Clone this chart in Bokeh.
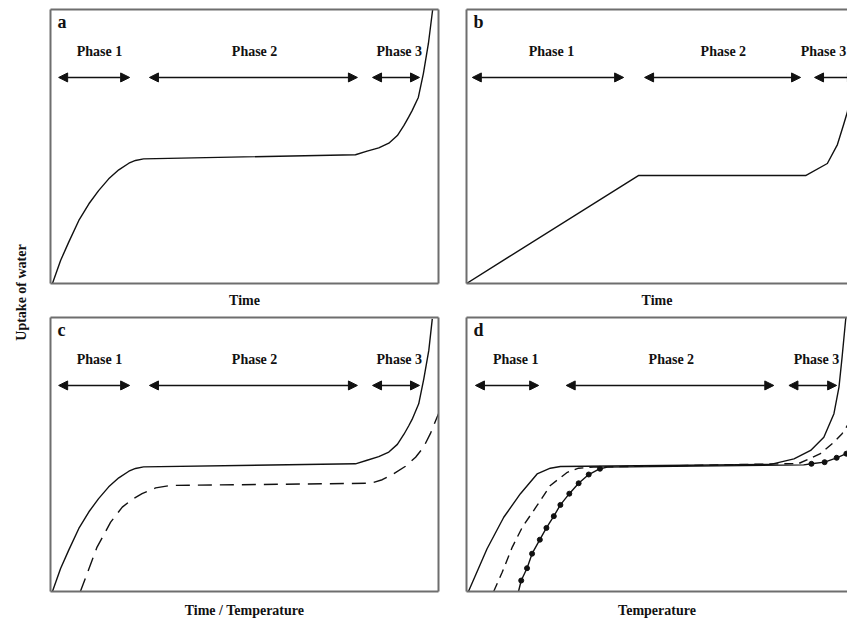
import math
from bokeh.plotting import figure
from bokeh.models import (ColumnDataSource, Range1d, LinearAxis, FixedTicker, Arrow,
                          NormalHead, Label, CDSView, BooleanFilter)
from bokeh.layouts import row, column
from bokeh.embed import file_html
from bokeh.resources import INLINE
from bokeh.core.properties import value

# ---------------- data (arbitrary units 0-100) ----------------
# panel a: time course of water uptake
a_x = [0.5, 2.6, 4.7, 7.3, 9.9, 12.4, 15.0, 17.6, 20.2, 21.9, 24.0, 78.6, 81.6, 84.6, 87.2,
       89.4, 91.1, 92.3, 93.2, 94.8, 96.1, 97.4, 98.5]
a_y = [0, 8.4, 15.1, 23.0, 29.1, 33.9, 38.2, 41.5, 43.9, 44.9, 45.5, 47.0, 48.3, 49.5, 51.2,
       54.0, 57.7, 60.7, 63.1, 67.9, 76.6, 87.6, 100]

# panel b: linear phase 1
b_x = [0, 44.3, 87.4, 93.0, 95.6, 97.2, 98.2, 99.0, 99.7]
b_y = [0, 39.4, 39.4, 43.8, 50.7, 58.0, 62.8, 73.0, 92.0]

# panel c: solid and dashed curves
c_solid_x = [0.5, 2.6, 4.7, 7.3, 9.9, 12.4, 15.0, 17.6, 20.2, 21.9, 24.0, 78.6, 81.6, 84.6, 87.2,
             89.4, 91.1, 92.3, 93.2, 94.9, 96.2, 97.5, 98.4]
c_solid_y = [0, 8.4, 15.1, 23.0, 29.1, 33.9, 38.2, 41.5, 43.9, 44.9, 45.5, 46.6, 47.9, 49.2, 50.9,
             53.7, 57.4, 60.4, 62.8, 68.5, 77.5, 88.0, 99.5]
c_dash_x = [7.7, 12.0, 15.5, 18.5, 21.0, 23.6, 27.1, 30.9, 82.5, 85.5, 88.5, 91.5, 94.1, 96.2, 97.9, 100.0]
c_dash_y = [0, 16.2, 25.3, 30.8, 33.6, 35.7, 37.8, 38.7, 39.5, 40.8, 43.0, 45.7, 49.0, 52.8, 57.6, 64.9]

# panel d: solid, dashed and dotted (line with dots) curves
d_solid_x = [0.5, 5.3, 9.6, 13.9, 18.2, 21.6, 24.2, 78.4, 84.4, 88.7, 92.1, 94.7, 96.0, 96.8, 97.7, 98.2]
d_solid_y = [0, 15.6, 27.1, 35.7, 42.9, 45.0, 45.6, 46.4, 48.4, 51.5, 56.3, 64.9, 74.6, 85.5, 98.9, 105]
d_dash_x = [7.0, 9.2, 11.8, 14.4, 18.2, 21.6, 26.0, 28.9, 32.8, 85.6, 91.2, 94.7, 96.8, 99.0, 101.5]
d_dash_y = [0, 7.0, 16.2, 23.5, 31.4, 38.7, 43.5, 45.0, 45.4, 46.7, 50.3, 54.5, 57.6, 62.4, 77.0]
d_dot_x = [13.4, 14.1, 15.6, 16.9, 18.9, 20.6, 22.5, 24.2, 26.5, 28.9, 31.5, 34.4, 36.3,
           86.9, 88.9, 92.3, 95.4, 97.9, 100.5]
d_dot_y = [0, 4.0, 8.5, 13.8, 18.9, 23.2, 27.5, 31.6, 35.7, 39.5, 42.7, 44.8, 45.4,
           46.2, 46.6, 47.2, 48.8, 50.3, 52.6]
d_dot_marked = [False] + [True] * 11 + [False, False] + [True] * 4 + [False]

# phases
phase_names = ["Phase 1", "Phase 2", "Phase 3"]
a_phase_start = [2.1, 25.5, 83.0]
a_phase_end = [20.4, 79.1, 95.1]
a_phase_mid = [12.6, 52.6, 89.9]
b_phase_start = [1.5, 45.9, 89.7]
b_phase_end = [40.5, 86.1, 100.5]
b_phase_mid = [21.9, 66.2, 92.0]
c_phase_start = [2.1, 25.5, 83.0]
c_phase_end = [20.4, 79.1, 95.1]
c_phase_mid = [12.6, 52.6, 89.9]
d_phase_start = [2.3, 25.7, 83.1]
d_phase_end = [18.6, 79.2, 95.4]
d_phase_mid = [12.7, 52.8, 90.2]

panel_letters = ["a", "b", "c", "d"]
x_titles = ["Time", "Time", "Time / Temperature", "Temperature"]
y_title = "Uptake of water"

# ---------------- styling ----------------
FONT_NAME = "Liberation Serif"
FONT = value(FONT_NAME)
BORDER = "#6e6e6e"
INK = "#111111"
ARROW_Y = 75.2
PHASE_Y = 84.6


def border_axis(label=None, standoff=0):
    ax = LinearAxis(ticker=FixedTicker(ticks=[]), axis_line_color=BORDER, axis_line_width=2,
                    major_tick_in=0, major_tick_out=0, minor_tick_in=0, minor_tick_out=0,
                    major_label_standoff=0, major_label_text_font_size="0px")
    if label:
        ax.axis_label = label
        ax.axis_label_standoff = standoff
        ax.axis_label_text_font = FONT_NAME
        ax.axis_label_text_font_style = "bold"
        ax.axis_label_text_font_size = "14px"
        ax.axis_label_text_color = INK
    return ax


def make_panel(width, height, xmax, borders, right_border, letter, phase_s, phase_e, phase_m,
               xtitle, standoff):
    left, right, top, bottom = borders
    p = figure(width=width, height=height, x_range=Range1d(0, xmax), y_range=Range1d(0, 100),
               x_axis_type=None, y_axis_type=None, toolbar_location=None, output_backend="svg",
               min_border_left=left, min_border_right=right, min_border_top=top,
               min_border_bottom=bottom, outline_line_color=None, background_fill_color="white",
               border_fill_color="white")
    p.add_layout(border_axis(), "left")
    p.add_layout(border_axis(xtitle, standoff), "below")
    p.add_layout(border_axis(), "above")
    if right_border:
        p.add_layout(border_axis(), "right")
    p.grid.visible = False

    # phase arrows
    src = ColumnDataSource(dict(xs=phase_s, xe=phase_e, y=[ARROW_Y] * len(phase_s)))
    p.add_layout(Arrow(source=src, x_start="xs", y_start="y", x_end="xe", y_end="y",
                       line_color=INK, line_width=1.6,
                       start=NormalHead(size=9, fill_color=INK, line_color=INK, line_width=1),
                       end=NormalHead(size=9, fill_color=INK, line_color=INK, line_width=1)))
    p.text(x=phase_m, y=[PHASE_Y] * len(phase_m), text=phase_names, text_font=FONT,
           text_font_style="bold", text_font_size="14px", text_align="center",
           text_baseline="middle", text_color=INK)
    # panel letter
    p.text(x=[1.8], y=[95.3], text=[letter], text_font=FONT, text_font_style="bold",
           text_font_size="18px", text_align="left", text_baseline="middle", text_color=INK)
    return p


LW = 1.4
# left column 404 px wide (frame 388 px), right column 395 px wide (frame 381 px, cut at the
# window edge like the reference)
XMAX_RIGHT = 100 * 381 / 388

pa = make_panel(404, 310, 100, (2, 14, 9, 27), True, panel_letters[0],
                a_phase_start, a_phase_end, a_phase_mid, x_titles[0], 9)
pa.line(a_x, a_y, line_color=INK, line_width=LW, line_join="round")

pb = make_panel(395, 310, XMAX_RIGHT, (14, 0, 9, 27), False, panel_letters[1],
                b_phase_start, b_phase_end, b_phase_mid, x_titles[1], 9)
pb.line(b_x, b_y, line_color=INK, line_width=LW, line_join="round")

pc = make_panel(404, 310, 100, (2, 14, 7, 29), True, panel_letters[2],
                c_phase_start, c_phase_end, c_phase_mid, x_titles[2], 11)
pc.line(c_solid_x, c_solid_y, line_color=INK, line_width=LW, line_join="round")
pc.line(c_dash_x, c_dash_y, line_color=INK, line_width=LW, line_dash="14 8", line_join="round")

pd = make_panel(395, 310, XMAX_RIGHT, (14, 0, 7, 29), False, panel_letters[3],
                d_phase_start, d_phase_end, d_phase_mid, x_titles[3], 11)
pd.line(d_solid_x, d_solid_y, line_color=INK, line_width=LW, line_join="round")
pd.line(d_dash_x, d_dash_y, line_color=INK, line_width=LW, line_dash="9 6", line_join="round")
dot_src = ColumnDataSource(dict(x=d_dot_x, y=d_dot_y))
pd.line("x", "y", source=dot_src, line_color=INK, line_width=LW, line_join="round")
pd.scatter("x", "y", source=dot_src, view=CDSView(filter=BooleanFilter(d_dot_marked)),
           size=5, color=INK)

# shared y title in a narrow figure
py = figure(width=48, height=620, x_range=Range1d(0, 48), y_range=Range1d(0, 620),
            x_axis_type=None, y_axis_type=None, toolbar_location=None, output_backend="svg",
            min_border=0, outline_line_color=None)
py.grid.visible = False
py.add_layout(Label(x=21, y=328, text=y_title, angle=math.pi / 2, text_font=FONT_NAME,
                    text_font_style="bold", text_font_size="14px", text_align="center",
                    text_baseline="middle", text_color=INK))

layout = row(py, column(row(pa, pb), row(pc, pd)))

open("out.html", "w").write(file_html(layout, INLINE))
